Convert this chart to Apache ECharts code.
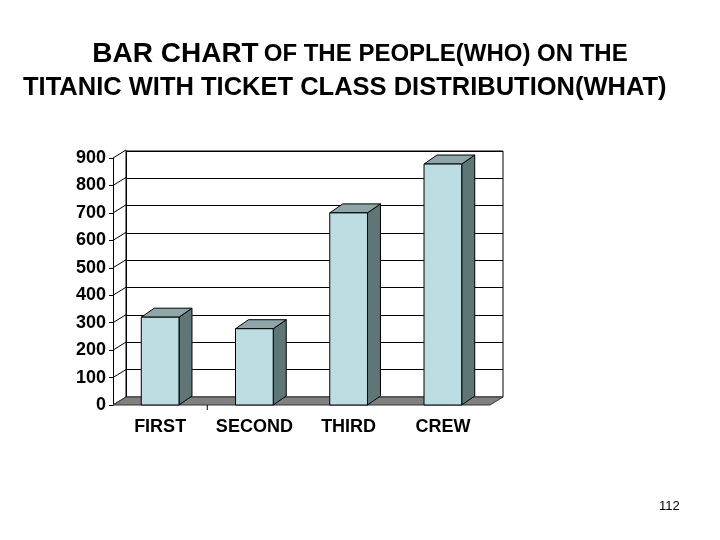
<!DOCTYPE html>
<html>
<head>
<meta charset="utf-8">
<script src="https://cdn.jsdelivr.net/npm/echarts@6/dist/echarts.min.js"></script>
<style>html,body{margin:0;padding:0;background:#fff;}#c{width:720px;height:540px;}</style>
</head>
<body>
<div id="c"></div>
<script>
const categories = ['FIRST', 'SECOND', 'THIRD', 'CREW'];
const passengers = [320, 278, 700, 878];
const yTicks = [0, 100, 200, 300, 400, 500, 600, 700, 800, 900];
const titleLine1a = 'BAR CHART';
const titleLine1b = 'OF THE PEOPLE(WHO) ON THE';
const titleLine2 = 'TITANIC WITH TICKET CLASS DISTRIBUTION(WHAT)';
const pageNumber = '112';

const FONT = '"Liberation Sans", Arial, sans-serif';
const WALL_DX = 13, WALL_DY = -8;
const BAR_DX = 13, BAR_DY = -9;
const FRONT = '#BCDEE2', TOP = '#8FA6A8', SIDE = '#607676';

const chart = echarts.init(document.getElementById('c'), null, {renderer: 'canvas'});

const option = {
  backgroundColor: '#ffffff',
  animation: false,
  title: [
    {
      text: '{a|' + titleLine1a + '} {b|' + titleLine1b + '}',
      left: 'center', top: 34,
      textStyle: {
        rich: {
          a: {fontFamily: FONT, fontWeight: 'bold', fontSize: 28, color: '#000', lineHeight: 30},
          b: {fontFamily: FONT, fontWeight: 'bold', fontSize: 24, color: '#000', lineHeight: 30}
        }
      }
    },
    {
      text: titleLine2,
      left: 18, top: 68,
      textStyle: {fontFamily: FONT, fontWeight: 'bold', fontSize: 25.5, color: '#000', lineHeight: 30}
    },
    {
      text: pageNumber,
      left: 654, top: 495,
      textStyle: {fontFamily: FONT, fontWeight: 'normal', fontSize: 13, color: '#000'}
    }
  ],
  grid: [
    {left: 113, right: 230, top: 158, bottom: 135, show: false},
    {left: 126, right: 217, top: 151, bottom: 143, show: true, backgroundColor: '#fff', borderColor: '#000', borderWidth: 1, z: 0}
  ],
  xAxis: [
    {
      gridIndex: 0, type: 'category', data: categories, boundaryGap: true,
      axisLine: {show: false},
      axisTick: {show: false},
      axisLabel: {interval: 0, fontFamily: FONT, fontWeight: 'bold', fontSize: 18, color: '#000', margin: 13}
    },
    {
      gridIndex: 1, type: 'category', data: categories, show: false
    }
  ],
  yAxis: [
    {
      gridIndex: 0, type: 'value', min: 0, max: 900, interval: 100,
      axisLine: {show: true, lineStyle: {color: '#000'}},
      axisTick: {show: true, length: 4, lineStyle: {color: '#000'}},
      splitLine: {show: false},
      axisLabel: {fontFamily: FONT, fontWeight: 'bold', fontSize: 18, color: '#000', margin: 7}
    },
    {
      gridIndex: 1, type: 'value', min: 0, max: 900, interval: 100,
      axisLine: {show: true, lineStyle: {color: '#000'}},
      axisTick: {show: false},
      axisLabel: {show: false},
      splitLine: {show: true, lineStyle: {color: '#000', width: 1}}
    }
  ],
  series: [
    {
      type: 'custom',
      xAxisIndex: 0, yAxisIndex: 0,
      z: 1,
      data: [[0, 0]],
      silent: true,
      renderItem: function (params, api) {
        const cs = params.coordSys;
        const x0 = cs.x, x1 = cs.x + cs.width;
        const y0 = api.coord([0, 0])[1];
        const children = [];
        yTicks.forEach(function (v) {
          const y = api.coord([0, v])[1];
          children.push({
            type: 'line',
            shape: {x1: x0, y1: y, x2: x0 + WALL_DX, y2: y + WALL_DY},
            style: {stroke: '#000', lineWidth: 1}
          });
        });
        children.push({
          type: 'polygon',
          shape: {points: [[x0, y0], [x1, y0], [x1 + WALL_DX, y0 + WALL_DY], [x0 + WALL_DX, y0 + WALL_DY]]},
          style: {fill: '#808080', stroke: '#333', lineWidth: 1}
        });
        const tx = (api.coord([0, 0])[0] + api.coord([1, 0])[0]) / 2;
        children.push({
          type: 'line',
          shape: {x1: tx, y1: y0, x2: tx, y2: y0 + 5},
          style: {stroke: '#000', lineWidth: 1}
        });
        return {type: 'group', children: children};
      }
    },
    {
      type: 'custom',
      xAxisIndex: 0, yAxisIndex: 0,
      z: 3,
      encode: {x: 0, y: 1},
      data: categories.map(function (c, i) { return [i, passengers[i]]; }),
      renderItem: function (params, api) {
        const i = api.value(0), v = api.value(1);
        const base = api.coord([i, 0]);
        const top = api.coord([i, v]);
        const w = api.size([1, 0])[0] * 0.4;
        const xl = top[0] - w / 2, xr = top[0] + w / 2;
        const yt = top[1], yb = base[1];
        const ls = {stroke: '#000', lineWidth: 1};
        return {
          type: 'group',
          children: [
            {type: 'polygon', shape: {points: [[xr, yt], [xr + BAR_DX, yt + BAR_DY], [xr + BAR_DX, yb + BAR_DY], [xr, yb]]}, style: Object.assign({fill: SIDE}, ls)},
            {type: 'polygon', shape: {points: [[xl, yt], [xl + BAR_DX, yt + BAR_DY], [xr + BAR_DX, yt + BAR_DY], [xr, yt]]}, style: Object.assign({fill: TOP}, ls)},
            {type: 'rect', shape: {x: xl, y: yt, width: w, height: yb - yt}, style: Object.assign({fill: FRONT}, ls)}
          ]
        };
      }
    }
  ]
};
chart.setOption(option);
</script>
</body>
</html>
